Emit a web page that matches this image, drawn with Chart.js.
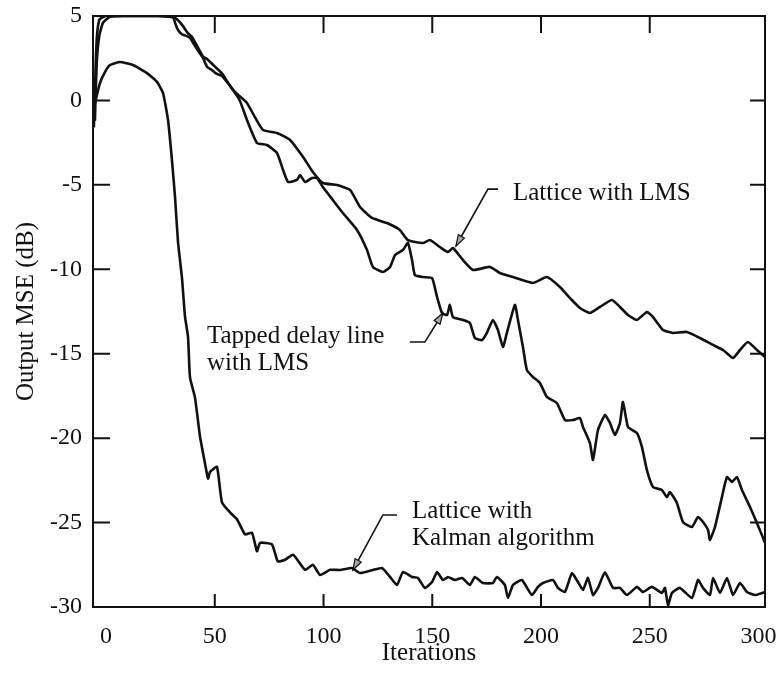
<!DOCTYPE html>
<html>
<head>
<meta charset="utf-8">
<script src="https://cdn.jsdelivr.net/npm/chart.js@4/dist/chart.umd.min.js"></script>
<style>
  html, body { margin: 0; padding: 0; background: #fff; }
  #wrap { width: 781px; height: 673px; position: relative; }
</style>
</head>
<body>
<div id="wrap"><canvas id="c"></canvas></div>
<script>
// ---- tick labels ----
const xTickValues = [0, 50, 100, 150, 200, 250, 300];
const yTickValues = [5, 0, -5, -10, -15, -20, -25, -30];
const xInnerTicks = [50, 100, 150, 200, 250];
const yInnerTicks = [0, -5, -10, -15, -20, -25];

// ---- series: Lattice with LMS ----
const latticeLmsX = [-5.1, -4.8, -4.2, -3.0, -1.4, 1.8, 8, 16, 24, 30.8, 33.1, 35.4, 37.5, 39.5, 42, 44.6, 46.4, 48.5, 50.1, 53.3, 55.6, 58.4, 61, 64.8, 68.5, 72.2, 78.6, 84.6, 90.6, 95.1, 99.7, 106.2, 112.2, 116.8, 122.3, 129.2, 135.1, 138.8, 145.7, 148.9, 153.5, 157.2, 159.5, 164.1, 168.7, 176.5, 181.1, 187.1, 196.3, 202.7, 208.7, 213.3, 217.9, 222.5, 227.1, 232.6, 236.3, 240.0, 244.1, 248.7, 251.5, 256.1, 260.7, 267.1, 273.1, 279.1, 283.7, 288.3, 291.5, 295.1, 299.3, 303];
const latticeLmsY = [-1.2, 0.3, 2.4, 3.9, 4.6, 4.95, 5, 5, 5, 4.95, 4.75, 4.4, 4.0, 3.76, 3.2, 2.6, 2.45, 2.2, 2.0, 1.6, 1.15, 0.62, 0.3, -0.15, -1.0, -1.75, -1.93, -2.34, -3.35, -4.24, -4.89, -5.01, -5.30, -6.31, -6.96, -7.26, -7.67, -8.27, -8.44, -8.27, -8.68, -8.98, -8.74, -9.45, -10.04, -9.86, -10.22, -10.46, -10.81, -10.46, -11.05, -11.70, -12.29, -12.59, -12.23, -11.82, -12.23, -12.71, -13.00, -12.53, -12.83, -13.60, -13.77, -13.71, -14.07, -14.48, -14.78, -15.25, -14.78, -14.31, -14.78, -15.19];

// ---- series: Tapped delay line with LMS ----
const tappedX = [-5.6, -5.2, -4.8, -4.2, -3.0, 0, 8, 16, 24, 30.8, 32, 33.1, 35, 36.3, 38.6, 41, 44.6, 46.4, 48.7, 50.5, 53.3, 55.6, 58.4, 61.5, 64.8, 69.4, 74.0, 78.6, 81.4, 83.7, 87.8, 89.2, 91.5, 94.7, 97.0, 99.7, 104.3, 108.9, 115.4, 120.0, 122.7, 127.3, 130.6, 132.9, 136.5, 138.8, 140.7, 142.0, 145.7, 149.9, 152.2, 154.5, 156.8, 158.1, 159.5, 164.1, 167.3, 169.6, 172.9, 175.1, 177.9, 180.2, 182.5, 184.3, 188.0, 189.4, 191.7, 193.5, 196.3, 199.5, 202.7, 207.3, 211.0, 214.7, 217.9, 219.3, 222.5, 223.9, 226.2, 229.4, 231.7, 234.0, 236.3, 237.7, 240.0, 244.1, 246.4, 248.7, 251.5, 255.6, 257.9, 259.3, 262.5, 265.3, 269.4, 272.2, 274.5, 276.8, 277.7, 280.0, 283.2, 285.5, 287.8, 290.1, 292.4, 296.1, 299.3, 303];
const tappedY = [-1.6, 0.0, 2.0, 3.8, 4.8, 5, 5, 5, 5, 4.9, 4.5, 4.17, 3.9, 3.85, 3.7, 3.2, 2.51, 2.0, 1.80, 1.6, 1.45, 1.09, 0.62, 0.0, -1.16, -2.52, -2.64, -3.11, -4.12, -4.83, -4.71, -4.42, -4.83, -4.59, -4.59, -5.13, -5.90, -6.67, -7.67, -8.86, -9.86, -10.16, -9.86, -9.15, -8.86, -8.44, -9.45, -10.34, -10.46, -10.52, -11.64, -12.59, -12.71, -12.11, -12.83, -13.00, -13.18, -14.07, -14.19, -13.77, -13.00, -13.60, -14.60, -13.77, -12.11, -13.00, -14.60, -15.96, -16.38, -16.73, -17.56, -17.92, -18.93, -18.93, -18.81, -19.34, -20.29, -21.29, -19.52, -18.63, -19.10, -19.81, -19.10, -17.86, -19.34, -19.70, -20.52, -21.89, -22.89, -23.07, -23.49, -23.19, -23.84, -24.97, -25.26, -24.67, -24.97, -25.44, -26.03, -25.26, -23.49, -22.30, -22.60, -22.30, -23.07, -24.08, -25.02, -26.2];

// ---- series: Lattice with Kalman algorithm ----
const kalmanX = [-5.1, -2.8, -0.5, 1.8, 6.4, 12.4, 18.8, 23.4, 26.2, 28.5, 30.3, 31.7, 33.1, 34.9, 36.3, 37.7, 38.6, 40.9, 43.2, 45.5, 46.9, 47.8, 51.0, 53.3, 57.0, 60.2, 63.9, 67.1, 69.4, 70.8, 76.3, 79.0, 82.3, 86.0, 91.5, 95.1, 98.4, 103.0, 107.6, 113.1, 116.8, 122.7, 126.9, 130.6, 133.8, 136.5, 140.7, 143.4, 146.6, 149.9, 152.2, 154.9, 157.2, 160.4, 163.7, 167.3, 169.6, 173.3, 177.9, 179.7, 183.4, 184.8, 187.1, 191.2, 195.8, 198.6, 200.9, 205.5, 207.8, 211.0, 214.2, 217.0, 219.3, 221.6, 223.9, 226.2, 229.4, 233.1, 236.3, 239.5, 244.1, 246.9, 251.0, 255.6, 257.0, 258.4, 260.2, 263.9, 269.4, 272.2, 274.5, 277.7, 279.1, 282.3, 285.5, 288.3, 291.5, 294.7, 298.4, 303.0];
const kalmanY = [-0.15, 1.03, 1.68, 2.1, 2.28, 2.1, 1.62, 1.1, 0.44, -1.16, -3.53, -5.7, -8.4, -10.5, -12.8, -14.0, -16.4, -17.6, -19.9, -21.5, -22.4, -22.0, -21.7, -23.8, -24.4, -24.8, -25.7, -25.6, -26.7, -26.2, -26.3, -27.3, -27.2, -26.9, -27.8, -27.5, -28.1, -27.8, -27.81, -27.69, -27.99, -27.81, -27.69, -28.22, -28.70, -27.93, -28.22, -28.28, -28.87, -28.52, -27.93, -28.40, -28.22, -28.40, -28.28, -28.70, -28.22, -28.58, -28.58, -28.22, -28.70, -29.47, -28.70, -28.40, -29.29, -28.81, -28.58, -28.40, -28.87, -29.11, -28.0, -28.52, -28.99, -28.28, -29.29, -28.87, -27.95, -28.87, -28.87, -29.29, -28.81, -29.11, -28.81, -29.17, -28.87, -29.9, -29.17, -28.87, -29.47, -28.40, -28.87, -29.29, -28.28, -29.17, -28.28, -29.29, -28.58, -29.11, -29.29, -29.11];

// ---- annotations (data coordinates) ----
const annotTexts = [
  ['Lattice with LMS'],
  ['Tapped delay line', 'with LMS'],
  ['Lattice with', 'Kalman algorithm']
];
const annotAnchors = [[187.1, -5.90], [46.4, -14.37], [140.7, -24.73]];
const annotLeaders = [
  [[180.2, -5.25], [175.6, -5.25], [160.9, -8.62]],
  [[139.7, -14.31], [146.6, -14.31], [154.9, -12.59]],
  [[133.8, -24.55], [127.3, -24.55], [113.5, -27.81]]
];

const FONT = '"Liberation Serif", "Times New Roman", "DejaVu Serif", serif';
const INK = '#111';

function pts(xs, ys) { return xs.map((x, i) => ({ x: x, y: ys[i] })); }

const lineStyle = { borderColor: INK, borderWidth: 2.6, pointRadius: 0, tension: 0.15, fill: false };

const framePlugin = {
  id: 'frameAndNotes',
  afterDatasetsDraw(chart) {
    const { ctx, chartArea: a, scales } = chart;
    const xs = scales.x, ys = scales.y;
    ctx.save();
    ctx.strokeStyle = INK;
    ctx.lineWidth = 2;
    ctx.strokeRect(a.left, a.top, a.right - a.left, a.bottom - a.top);
    ctx.beginPath();
    xInnerTicks.forEach(v => {
      const px = xs.getPixelForValue(v);
      ctx.moveTo(px, a.bottom); ctx.lineTo(px, a.bottom - 13);
      ctx.moveTo(px, a.top); ctx.lineTo(px, a.top + 17);
    });
    yInnerTicks.forEach(v => {
      const py = ys.getPixelForValue(v);
      ctx.moveTo(a.left, py); ctx.lineTo(a.left + 17, py);
      ctx.moveTo(a.right, py); ctx.lineTo(a.right - 15, py);
    });
    ctx.stroke();
    annotLeaders.forEach(L => {
      const p = L.map(q => [xs.getPixelForValue(q[0]), ys.getPixelForValue(q[1])]);
      ctx.lineWidth = 1.6;
      ctx.strokeStyle = INK;
      ctx.beginPath();
      ctx.moveTo(p[0][0], p[0][1]);
      for (let i = 1; i < p.length; i++) ctx.lineTo(p[i][0], p[i][1]);
      ctx.stroke();
      const t = p[p.length - 1], s = p[p.length - 2];
      const dx = t[0] - s[0], dy = t[1] - s[1];
      const len = Math.hypot(dx, dy), ux = dx / len, uy = dy / len;
      const bx = t[0] - ux * 11, by = t[1] - uy * 11;
      ctx.beginPath();
      ctx.moveTo(t[0], t[1]);
      ctx.lineTo(bx - uy * 3.5, by + ux * 3.5);
      ctx.lineTo(bx + uy * 3.5, by - ux * 3.5);
      ctx.closePath();
      ctx.fillStyle = '#aaa';
      ctx.fill();
      ctx.lineWidth = 1.2;
      ctx.stroke();
    });
    ctx.fillStyle = INK;
    ctx.font = '25px ' + FONT;
    ctx.textAlign = 'left';
    ctx.textBaseline = 'alphabetic';
    annotTexts.forEach((lines, i) => {
      const px = xs.getPixelForValue(annotAnchors[i][0]);
      const py = ys.getPixelForValue(annotAnchors[i][1]);
      lines.forEach((t, j) => ctx.fillText(t, px, py + j * 26.5));
    });
    ctx.restore();
  }
};

new Chart(document.getElementById('c'), {
  type: 'line',
  data: {
    datasets: [
      Object.assign({ label: 'Lattice with LMS', data: pts(latticeLmsX, latticeLmsY) }, lineStyle),
      Object.assign({ label: 'Tapped delay line with LMS', data: pts(tappedX, tappedY) }, lineStyle),
      Object.assign({ label: 'Lattice with Kalman algorithm', data: pts(kalmanX, kalmanY) }, lineStyle)
    ]
  },
  options: {
    responsive: true,
    maintainAspectRatio: false,
    animation: false,
    layout: { padding: { left: 0, right: 16, top: 16, bottom: 0 } },
    plugins: { legend: { display: false }, tooltip: { enabled: false } },
    scales: {
      x: {
        type: 'linear',
        min: -6,
        max: 303,
        afterBuildTicks: s => { s.ticks = xTickValues.map(v => ({ value: v })); },
        afterFit: s => { s.height = 66; s.paddingLeft = 0; s.paddingRight = 0; },
        grid: { display: true, drawOnChartArea: false, drawTicks: false },
        border: { display: false },
        ticks: {
          padding: 15,
          color: INK,
          font: { family: FONT, size: 24 },
          maxRotation: 0,
          autoSkip: false,
          callback: v => String(v)
        },
        title: {
          display: true,
          text: 'Iterations',
          color: INK,
          font: { family: FONT, size: 25 },
          padding: { top: 0, bottom: 5 }
        }
      },
      y: {
        type: 'linear',
        min: -30,
        max: 5,
        afterBuildTicks: s => { s.ticks = yTickValues.map(v => ({ value: v })); },
        afterFit: s => { s.width = 93; s.paddingTop = 0; s.paddingBottom = 0; },
        grid: { display: true, drawOnChartArea: false, drawTicks: false },
        border: { display: false },
        ticks: {
          padding: 11,
          color: INK,
          font: { family: FONT, size: 24 },
          autoSkip: false,
          callback: v => String(v)
        },
        title: {
          display: true,
          text: 'Output MSE (dB)',
          color: INK,
          font: { family: FONT, size: 25 },
          padding: { top: 11, bottom: 0 }
        }
      }
    }
  },
  plugins: [framePlugin]
});
</script>
</body>
</html>
